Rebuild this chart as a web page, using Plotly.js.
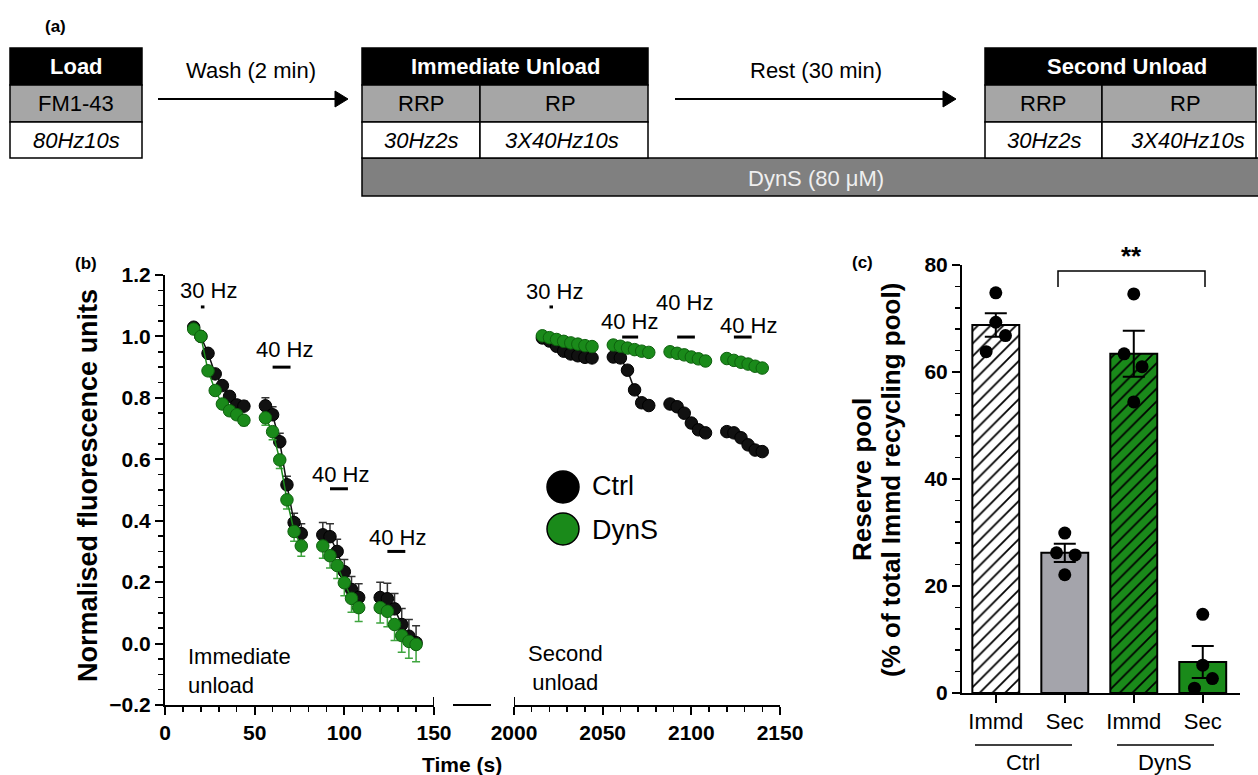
<!DOCTYPE html>
<html><head><meta charset="utf-8">
<script src="https://cdn.plot.ly/plotly-3.0.1.min.js"></script>
<style>html,body{margin:0;padding:0;background:#fff;} #chart{width:1258px;height:775px;}</style>
</head><body><div id="chart"></div>
<script>
// ---------------- data ----------------
// (b) immediate unload: time (s) per segment, normalised fluorescence
const immTimes = [[16,20,24,28,32,36,40,44],[56,60,64,68,72,76],[88,92,96,100,104,108],[120,124,128,132,136,140]];
const immCtrl = [[1.03,1.00,0.945,0.878,0.84,0.805,0.777,0.773],[0.774,0.745,0.657,0.517,0.394,0.358],[0.354,0.348,0.30,0.234,0.176,0.15],[0.15,0.146,0.113,0.062,0.024,0.003]];
const immCtrlErr = [[0.004,0.006,0.008,0.01,0.012,0.013,0.015,0.016],[0.026,0.026,0.028,0.028,0.03,0.032],[0.04,0.042,0.04,0.04,0.042,0.045],[0.05,0.05,0.05,0.052,0.054,0.055]];
const immDyn = [[1.024,1.0,0.888,0.824,0.78,0.758,0.745,0.727],[0.735,0.69,0.598,0.468,0.365,0.318],[0.318,0.286,0.254,0.198,0.147,0.117],[0.117,0.105,0.062,0.026,0.007,-0.003]];
const immDynErr = [[0.004,0.006,0.008,0.01,0.012,0.014,0.015,0.017],[0.024,0.026,0.028,0.03,0.032,0.034],[0.04,0.04,0.042,0.042,0.045,0.045],[0.05,0.05,0.052,0.054,0.055,0.056]];
// (b) second unload
const secTimes = [[2016,2020,2024,2028,2032,2036,2040,2044],[2056,2060,2064,2068,2072,2076],[2088,2092,2096,2100,2104,2108],[2120,2124,2128,2132,2136,2140]];
const secCtrl = [[0.995,0.985,0.968,0.952,0.943,0.937,0.932,0.93],[0.933,0.93,0.89,0.826,0.784,0.775],[0.78,0.771,0.75,0.718,0.696,0.686],[0.69,0.686,0.67,0.647,0.63,0.625]];
const secDyn = [[1.002,0.996,0.99,0.984,0.979,0.975,0.97,0.967],[0.972,0.968,0.962,0.957,0.952,0.948],[0.95,0.945,0.94,0.933,0.927,0.92],[0.928,0.922,0.916,0.91,0.903,0.897]];
// stimulation periods
const stimLabels = ['30 Hz','40 Hz','40 Hz','40 Hz'];
const stimImmStart = [20,60,92,124];
const stimImmEnd = [22,70,102,134];
const stimImmLevel = [1.096,0.90,0.504,0.30];
const stimSecStart = [2020,2061,2092,2124];
const stimSecEnd = [2022,2070,2102,2134];
const stimSecLevel = [1.096,0.998,0.998,0.998];
// (c) reserve pool
const poolCats = ['Immd','Sec','Immd','Sec'];
const poolGroups = ['Ctrl','DynS'];
const poolMean = [68.8,26.2,63.4,5.8];
const poolSem = [2.2,1.7,4.3,3.0];
const poolPts = [[74.8,69.3,66.8,63.8],[29.9,26.2,25.8,22.1],[74.6,63.4,61.0,54.4],[14.7,5.2,2.7,0.9]];

// ---------------- style ----------------
const W = 1258, H = 775;
const X = p => p / W;
const Y = p => 1 - p / H;
const FONT = '"Liberation Sans", Arial, Helvetica, sans-serif';
const GREEN = '#1a8a1a';
const GREEN_ERR = '#3fa53f';
const DOT_OFFSET = [[0,0,0.14,-0.14],[0,-0.12,0.15,0],[0,-0.14,0.12,0],[0,0,0.14,-0.12]];
const BAR_COLOR = ['#ffffff','#a4a4ab',GREEN,GREEN];
const BAR_PATTERN = ['/','','/',''];

function join(segs){const o=[];segs.forEach((s,i)=>{if(i)o.push(null);o.push(...s);});return o;}
function zeros(segs){return segs.map(s=>s.map(()=>0));}

const traces = [];
function series(times, vals, err, color, lineColor, xa, errUp, errColor){
  const t = {type:'scatter', mode:'lines+markers', x:join(times), y:join(vals), xaxis:xa, yaxis:'y',
    connectgaps:false, line:{color:lineColor, width:1.5},
    marker:{size:12.5, color:color, line:{color: color===GREEN ? '#0e610e' : '#000', width:1}}, hoverinfo:'skip'};
  if (err) {
    t.error_y = {type:'data', symmetric:false,
      array: errUp ? join(err) : join(zeros(err)),
      arrayminus: errUp ? join(zeros(err)) : join(err),
      color: errColor, thickness:1.5, width:4};
  }
  traces.push(t);
}
series(immTimes, immCtrl, immCtrlErr, '#111', '#111', 'x', true, '#333');
series(immTimes, immDyn, immDynErr, GREEN, GREEN, 'x', false, GREEN_ERR);
series(secTimes, secCtrl, null, '#111', '#111', 'x2');
series(secTimes, secDyn, null, GREEN, GREEN, 'x2');

function stimTrace(starts, ends, levels, xa){
  const xs=[], ys=[];
  starts.forEach((s,i)=>{ if(i){xs.push(null);ys.push(null);} xs.push(s,ends[i]); ys.push(levels[i],levels[i]); });
  traces.push({type:'scatter', mode:'lines', x:xs, y:ys, xaxis:xa, yaxis:'y', line:{color:'#000', width:3}, hoverinfo:'skip', cliponaxis:false});
}
stimTrace(stimImmStart, stimImmEnd, stimImmLevel, 'x');
stimTrace(stimSecStart, stimSecEnd, stimSecLevel, 'x2');

// (c) bars
poolMean.forEach((m,i)=>{
  traces.push({type:'bar', x:[i], y:[m], width:0.68, xaxis:'x3', yaxis:'y3', hoverinfo:'skip',
    marker:{color:BAR_COLOR[i], line:{color:'#000', width:2},
      pattern:{shape:BAR_PATTERN[i], fgcolor:'#000', bgcolor:BAR_COLOR[i], size:9, solidity:0.2, fillmode:'replace'}},
    error_y:{type:'data', array:[poolSem[i]], color:'#000', thickness:2, width:11}});
});
const dx=[], dy=[];
poolPts.forEach((pts,i)=>pts.forEach((v,j)=>{dx.push(i+DOT_OFFSET[i][j]); dy.push(v);}));
traces.push({type:'scatter', mode:'markers', x:dx, y:dy, xaxis:'x3', yaxis:'y3', hoverinfo:'skip',
  marker:{size:13, color:'#000'}});

// ---------------- layout ----------------
const tickBold = {family:FONT, size:21, color:'#000', weight:'bold'};
const axBase = {showline:true, linecolor:'#000', linewidth:2, ticks:'outside', ticklen:8, tickwidth:2, tickcolor:'#000',
  showgrid:false, zeroline:false, fixedrange:true};

const annotations = [];
function ann(text, x, y, o={}){
  annotations.push(Object.assign({text, x, y, xref:'paper', yref:'paper', showarrow:false,
    xanchor:'center', yanchor:'middle', font:{family:FONT, size:22, color:'#000'}}, o));
}
const bold = (s,c='#000') => ({family:FONT, size:s, color:c, weight:'bold'});
const ital = s => ({family:FONT, size:s, color:'#000', style:'italic'});
const reg = (s,c='#000') => ({family:FONT, size:s, color:c});

// panel (a)
ann('(a)', X(56), Y(26), {font:bold(17)});
ann('Load', X(76), Y(67), {font:bold(22,'#fff')});
ann('FM1-43', X(76), Y(104), {font:reg(22)});
ann('80Hz10s', X(76), Y(140), {font:ital(22)});
ann('Wash (2 min)', X(251), Y(70), {font:reg(22)});
ann('Immediate Unload', X(505), Y(67), {font:bold(22,'#fff')});
ann('RRP', X(421), Y(104), {font:reg(22)});
ann('RP', X(560), Y(104), {font:reg(22)});
ann('30Hz2s', X(421), Y(140), {font:ital(22)});
ann('3X40Hz10s', X(562), Y(140), {font:ital(22)});
ann('Rest (30 min)', X(816), Y(70), {font:reg(22)});
ann('Second Unload', X(1127), Y(67), {font:bold(22,'#fff')});
ann('RRP', X(1043), Y(104), {font:reg(22)});
ann('RP', X(1185), Y(104), {font:reg(22)});
ann('30Hz2s', X(1044), Y(140), {font:ital(22)});
ann('3X40Hz10s', X(1188), Y(140), {font:ital(22)});
ann('DynS (80 μM)', X(816), Y(178), {font:reg(22,'#efefef')});

// panel (b)
ann('(b)', X(86), Y(263), {font:bold(17)});
ann('Normalised fluorescence units', X(88), Y(486), {font:bold(27), textangle:-90});
ann('Time (s)', X(462), Y(764), {font:bold(21)});
ann('Immediate<br>unload', X(186), Y(671), {font:reg(22), xanchor:'left', align:'left'});
ann('Second<br>unload', X(565), Y(668), {font:reg(22), align:'center'});
const immLabelPos = [[24,1.151],[66.9,0.956],[97.6,0.55],[129.4,0.345]];
const secLabelPos = [[2023,1.145],[2065,1.047],[2096.4,1.109],[2132.5,1.037]];
stimLabels.forEach((s,i)=>{
  annotations.push({text:s, x:immLabelPos[i][0], y:immLabelPos[i][1], xref:'x', yref:'y', showarrow:false, font:reg(22)});
  annotations.push({text:s, x:secLabelPos[i][0], y:secLabelPos[i][1], xref:'x2', yref:'y', showarrow:false, font:reg(22)});
});
ann('Ctrl', X(590), Y(486), {font:reg(27), xanchor:'left'});
ann('DynS', X(590), Y(530), {font:reg(27), xanchor:'left'});

// panel (c)
ann('(c)', X(863), Y(262), {font:bold(17)});
ann('Reserve pool', X(862), Y(480), {font:bold(26), textangle:-90});
ann('(% of total Immd recycling pool)', X(891), Y(480), {font:bold(26), textangle:-90});
ann('**', X(1131), Y(256), {font:bold(26)});
ann(poolGroups[0], X(1023), Y(762), {font:reg(22)});
ann(poolGroups[1], X(1165), Y(762), {font:reg(22)});

const shapes = [];
function rect(x0,y0,x1,y1,fill,lw=1.5){
  shapes.push({type:'rect', xref:'paper', yref:'paper', x0:X(x0), x1:X(x1), y0:Y(y1), y1:Y(y0), fillcolor:fill, line:{color:'#000', width:lw}, layer:'below'});
}
function seg(x0,y0,x1,y1,w=2,xref='paper'){
  shapes.push({type:'line', xref:xref, yref:'paper', x0:xref==='paper'?X(x0):x0, x1:xref==='paper'?X(x1):x1, y0:Y(y0), y1:Y(y1), line:{color:'#000', width:w}});
}
function tri(xTip,y,len,half){
  shapes.push({type:'path', xref:'paper', yref:'paper',
    path:`M ${X(xTip)} ${Y(y)} L ${X(xTip-len)} ${Y(y-half)} L ${X(xTip-len)} ${Y(y+half)} Z`,
    fillcolor:'#000', line:{color:'#000', width:1}});
}
const GRAY = '#a6a6a6';
// Load box
rect(10,48,142,85,'#000'); rect(10,85,142,122,GRAY); rect(10,122,142,158,'#fff');
// DynS bar
rect(362,158,1262,196,'#808080');
// Immediate box
rect(362,48,648,85,'#000');
rect(362,85,480,122,GRAY); rect(480,85,648,122,GRAY);
rect(362,122,480,158,'#fff'); rect(480,122,648,158,'#fff');
// Second box
rect(985,48,1256,85,'#000');
rect(985,85,1102,122,GRAY); rect(1102,85,1256,122,GRAY);
rect(985,122,1102,158,'#fff'); rect(1102,122,1256,158,'#fff');
// arrows
seg(158,99,337,99,2); tri(348,99,13,8);
seg(675,99,944,99,2); tri(956,99,13,8);
// axis break marks (b)
shapes.push({type:'line', xref:'x', yref:'paper', x0:150, x1:150, y0:Y(697), y1:Y(705), line:{color:'#000', width:2}});
shapes.push({type:'line', xref:'x2', yref:'paper', x0:2000, x1:2000, y0:Y(697), y1:Y(705), line:{color:'#000', width:2}});
seg(453,705,491,705,2);
// legend markers (b)
shapes.push({type:'circle', xref:'paper', yref:'paper', x0:X(547), x1:X(579), y0:Y(503), y1:Y(471), fillcolor:'#000', line:{color:'#000', width:1.5}});
shapes.push({type:'circle', xref:'paper', yref:'paper', x0:X(547), x1:X(579), y0:Y(545), y1:Y(513), fillcolor:GREEN, line:{color:'#000', width:1.5}});
// (c) bracket and group lines
shapes.push({type:'path', xref:'paper', yref:'paper',
  path:`M ${X(1058)} ${Y(287)} L ${X(1058)} ${Y(271)} L ${X(1205)} ${Y(271)} L ${X(1205)} ${Y(287)}`,
  line:{color:'#000', width:1.5}});
seg(975,745,1072,745,1.5);
seg(1117,745,1214,745,1.5);

const layout = {
  width:W, height:H, margin:{l:0,r:0,t:0,b:0}, paper_bgcolor:'#fff', plot_bgcolor:'rgba(0,0,0,0)',
  showlegend:false, barmode:'overlay', font:{family:FONT, color:'#000'},
  xaxis: Object.assign({}, axBase, {domain:[X(165),X(434)], range:[0,150], anchor:'y', tick0:0, dtick:50, tickfont:tickBold,
    minor:{dtick:10, ticks:'outside', ticklen:5, tickwidth:1.5, tickcolor:'#000', showgrid:false}}),
  xaxis2: Object.assign({}, axBase, {domain:[X(514),X(780)], range:[2000,2150], anchor:'y', tick0:2000, dtick:50, tickfont:tickBold,
    minor:{dtick:10, ticks:'outside', ticklen:5, tickwidth:1.5, tickcolor:'#000', showgrid:false}}),
  yaxis: Object.assign({}, axBase, {domain:[Y(705),Y(275)], range:[-0.2,1.2], anchor:'x', tick0:0, dtick:0.2, tickformat:'.1f', tickfont:tickBold,
    minor:{dtick:0.05, ticks:'outside', ticklen:5, tickwidth:1.5, tickcolor:'#000', showgrid:false}}),
  xaxis3: Object.assign({}, axBase, {domain:[X(962),X(1240)], range:[-0.49,3.54], anchor:'y3', tickmode:'array', tickvals:[0,1,2,3], ticktext:poolCats,
    tickfont:{family:FONT, size:22, color:'#000'}}),
  yaxis3: Object.assign({}, axBase, {domain:[Y(693),Y(265)], range:[0,80], anchor:'x3', tick0:0, dtick:20, tickfont:tickBold,
    minor:{dtick:4, ticks:'outside', ticklen:5, tickwidth:1.5, tickcolor:'#000', showgrid:false}}),
  annotations, shapes
};
Plotly.newPlot('chart', traces, layout, {staticPlot:true, displayModeBar:false});
</script></body></html>
